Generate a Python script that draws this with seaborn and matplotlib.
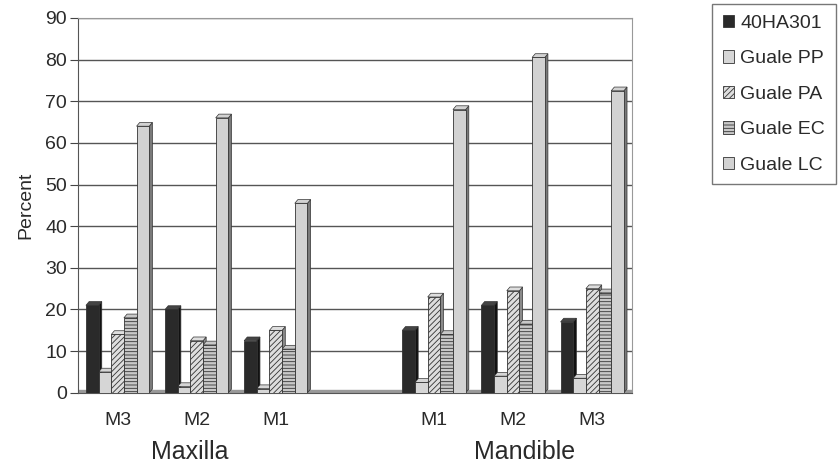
import numpy as np
import pandas as pd
import matplotlib
matplotlib.use("Agg")
import matplotlib.pyplot as plt
from matplotlib.patches import Polygon, Patch
import seaborn as sns

# ---- data ----
categories = ["M3a", "M2a", "M1a", "gap", "M1b", "M2b", "M3b"]
tick_labels = ["M3", "M2", "M1", "", "M1", "M2", "M3"]
series = ["40HA301", "Guale PP", "Guale PA", "Guale EC", "Guale LC"]
maxilla_cats = ["M3a", "M2a", "M1a"]
mandible_cats = ["M1b", "M2b", "M3b"]
v_40ha301 = [21.0, 20.0, 12.5, 15.0, 21.0, 17.0]
v_pp = [5.0, 1.5, 1.0, 2.5, 4.0, 3.5]
v_pa = [14.0, 12.5, 15.0, 23.0, 24.5, 25.0]
v_ec = [18.0, 11.5, 10.5, 14.0, 16.5, 24.0]
v_lc = [64.0, 66.0, 45.5, 68.0, 80.5, 72.5]

data_cats = maxilla_cats + mandible_cats
rows = []
for name, vals in zip(series, [v_40ha301, v_pp, v_pa, v_ec, v_lc]):
    for c, v in zip(data_cats, vals):
        rows.append({"cat": c, "series": name, "value": v})
df = pd.DataFrame(rows)

# ---- style ----
sns.set_style("white")
plt.rcParams["font.family"] = ["Liberation Sans", "DejaVu Sans"]
plt.rcParams["hatch.color"] = "#666666"
plt.rcParams["hatch.linewidth"] = 0.6

face_colors = ["#2a2a2a", "#d6d6d6", "#dedede", "#c8c8c8", "#d2d2d2"]
hatches = [None, None, "//////", "-----", None]
side_colors = ["#111111", "#8a8a8a", "#8a8a8a", "#8a8a8a", "#7a7a7a"]
txt = "#2a2a2a"

fig = plt.figure(figsize=(8.39, 4.71), dpi=100)
ax = fig.add_axes([0.093, 0.166, 0.660, 0.796])

sns.barplot(data=df, x="cat", y="value", hue="series", order=categories,
            hue_order=series, palette=face_colors, width=0.8,
            edgecolor="#333333", linewidth=0.6, ax=ax, legend=False,
            errorbar=None, zorder=3)

dx, dy = 0.04, 0.9
for i, cont in enumerate(ax.containers):
    for bar in cont:
        h = bar.get_height()
        if np.isnan(h):
            continue
        bar.set_hatch(hatches[i])
        x0 = bar.get_x()
        w = bar.get_width()
        side = Polygon([[x0 + w, 0], [x0 + w + dx, dy], [x0 + w + dx, h + dy], [x0 + w, h]],
                       closed=True, facecolor=side_colors[i], edgecolor="#333333",
                       linewidth=0.5, zorder=2.5)
        top = Polygon([[x0, h], [x0 + dx, h + dy], [x0 + w + dx, h + dy], [x0 + w, h]],
                      closed=True, facecolor=face_colors[i] if i else "#444444",
                      edgecolor="#333333", linewidth=0.5, zorder=2.5)
        ax.add_patch(side)
        ax.add_patch(top)

ax.set_ylim(0, 90)
ax.set_xlim(-0.5, len(categories) - 0.5)
ax.set_yticks(np.arange(0, 91, 10))
ax.set_xticks(np.arange(len(categories)))
ax.set_xticklabels(tick_labels)
ax.set_xticks(np.arange(len(categories) + 1) - 0.5, minor=True)
ax.tick_params(axis="x", which="major", length=0, labelsize=14, pad=14, colors=txt)
ax.tick_params(axis="x", which="minor", length=5, width=0.8, color="#444444", direction="out")
ax.tick_params(axis="y", length=6, width=0.8, color="#444444", labelsize=14, direction="out",
               left=True, colors=txt, pad=2)
ax.yaxis.grid(True, color="#555555", linewidth=1.0, zorder=0)
ax.set_axisbelow(True)
for s in ["top", "right"]:
    ax.spines[s].set_color("#999999")
    ax.spines[s].set_linewidth(0.8)
ax.spines["left"].set_color("#555555")
ax.spines["bottom"].set_color("#555555")
ax.axhspan(0, 0.6, color="#999999", zorder=1)
ax.set_xlabel("")
ax.set_ylabel("Percent", fontsize=14, color=txt, labelpad=8)

fig.text(190 / 839, 1 - 452 / 471, "Maxilla", ha="center", va="center", fontsize=18, color=txt)
fig.text(525 / 839, 1 - 452 / 471, "Mandible", ha="center", va="center", fontsize=18, color=txt)

handles = [Patch(facecolor=face_colors[i], edgecolor="#333333", hatch=hatches[i], linewidth=0.6)
           for i in range(len(series))]
leg = fig.legend(handles, series, loc="upper left", bbox_to_anchor=(712 / 839, 1 - 4 / 471),
                 bbox_transform=fig.transFigure, frameon=True, fancybox=False,
                 fontsize=14, handlelength=0.6, handleheight=0.6, handletextpad=0.3,
                 labelspacing=0.95, borderpad=0.55, borderaxespad=0)
leg.get_frame().set_edgecolor("#555555")
leg.get_frame().set_linewidth(1.0)
for t in leg.get_texts():
    t.set_color(txt)

fig.savefig("out.png", dpi=100)
